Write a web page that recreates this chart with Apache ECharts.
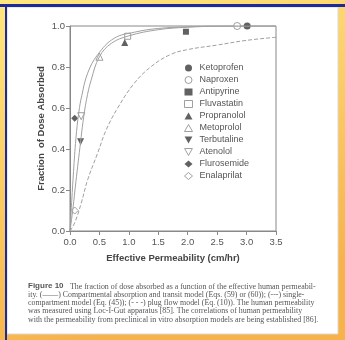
<!DOCTYPE html>
<html>
<head>
<meta charset="utf-8">
<script src="https://cdn.jsdelivr.net/npm/echarts@6/dist/echarts.min.js"></script>
<style>
  html, body { margin: 0; padding: 0; }
  #chart { width: 345px; height: 340px; }
</style>
</head>
<body>
<div id="chart"></div>
<script>
// model curves (permeability cm/hr -> fraction absorbed)
const compXs = [0, 0.03, 0.06, 0.1, 0.15, 0.2, 0.3, 0.47, 0.75, 1.1, 1.5, 2.0, 2.5, 3.0, 3.5];
const compYs = [0, 0.15, 0.29, 0.45, 0.58, 0.66, 0.77, 0.86, 0.94, 0.97, 0.988, 0.996, 1.0, 1.0, 1.0];

const singleXs = [0, 0.05, 0.1, 0.18, 0.22, 0.28, 0.36, 0.5, 0.7, 1.0, 1.5, 2.0, 2.5, 3.0, 3.5];
const singleYs = [0, 0.11, 0.24, 0.435, 0.53, 0.64, 0.737, 0.85, 0.915, 0.952, 0.982, 0.994, 0.999, 1.0, 1.0];

const plugXs = [0, 0.08, 0.19, 0.3, 0.47, 0.61, 0.81, 1.09, 1.37, 1.7, 2.0, 2.5, 3.0, 3.5];
const plugYs = [0, 0.04, 0.135, 0.25, 0.38, 0.49, 0.6, 0.72, 0.8, 0.86, 0.885, 0.907, 0.93, 0.945];

// measured drugs
const drugNames = ['Ketoprofen', 'Naproxen', 'Antipyrine', 'Fluvastatin', 'Propranolol',
  'Metoprolol', 'Terbutaline', 'Atenolol', 'Flurosemide', 'Enalaprilat'];
const drugPerm = [3.01, 2.84, 1.97, 0.98, 0.93, 0.5, 0.18, 0.19, 0.08, 0.08];
const drugFrac = [1.0, 1.0, 0.972, 0.95, 0.92, 0.85, 0.435, 0.56, 0.55, 0.1];

const xTicks = ['0.0', '0.5', '1.0', '1.5', '2.0', '2.5', '3.0', '3.5'];

const captionLines = [
  'ity. (——) Compartmental absorption and transit model (Eqs. (59) or (60)); (---) single-',
  'compartment model (Eq. (45)); (- - -) plug flow model (Eq. (10)). The human permeability',
  'was measured using Loc-I-Gut apparatus [85]. The correlations of human permeability',
  'with the permeability from preclinical in vitro absorption models are being established [86].'
];

const downTri = 'path://M0,0 L10,0 L5,9 Z';

// marker look per drug: [symbol, rotate, filled]
const markerLook = [
  ['circle', 0, true], ['circle', 0, false], ['rect', 0, true], ['rect', 0, false],
  ['triangle', 0, true], ['triangle', 0, false], ['triangle', 180, true], ['triangle', 180, false],
  ['diamond', 0, true], ['diamond', 0, false]
];

function pairs(xs, ys) {
  return xs.map((x, i) => [x, ys[i]]);
}

function markStyle(filled) {
  return filled
    ? { color: '#3a3a3a', borderWidth: 0 }
    : { color: '#ffffff', borderColor: '#888', borderWidth: 1 };
}

const curveSeries = [
  { name: 'comp', data: pairs(compXs, compYs), type: 'solid' },
  { name: 'single', data: pairs(singleXs, singleYs), type: 'solid' },
  { name: 'plug', data: pairs(plugXs, plugYs), type: 'dashed' }
].map(c => ({
  name: c.name,
  type: 'line',
  data: c.data,
  smooth: 0.4,
  showSymbol: false,
  silent: true,
  lineStyle: { color: '#a0a0a0', width: 1, type: c.type }
}));

const drugSeries = drugNames.map((name, i) => {
  const look = markerLook[i];
  return {
    name: name,
    type: 'scatter',
    data: [[drugPerm[i], drugFrac[i]]],
    symbol: look[0],
    symbolRotate: look[1],
    symbolSize: look[0] === 'rect' ? 6 : 7,
    itemStyle: markStyle(look[2])
  };
});

const legendItems = drugNames.map((name, i) => {
  const look = markerLook[i];
  return {
    name: name,
    icon: look[1] === 180 ? downTri : look[0],
    itemStyle: markStyle(look[2])
  };
});

const graphics = [
  { type: 'rect', z: -10, shape: { x: 7, y: 7, width: 331, height: 327 }, style: { fill: '#ffffff', stroke: '#d8d8d8' } },
  { type: 'rect', z: -9, shape: { x: 0, y: 4, width: 345, height: 3 }, style: { fill: '#1c2a9a' } },
  { type: 'rect', z: -9, shape: { x: 5, y: 4, width: 2, height: 336 }, style: { fill: '#1c2a9a' } },
  {
    type: 'text', left: 28, top: 282,
    style: { text: 'Figure 10', font: 'bold 8px "Liberation Sans"', fill: '#555' }
  },
  {
    type: 'text', left: 70, top: 282.5,
    style: { text: 'The fraction of dose absorbed as a function of the effective human permeabil-',
      font: '7.9px "Liberation Serif"', fill: '#555' }
  }
];
captionLines.forEach((line, i) => {
  graphics.push({
    type: 'text', left: 28, top: 291 + i * 8.2,
    style: { text: line, font: '7.9px "Liberation Serif"', fill: '#555' }
  });
});

const chart = echarts.init(document.getElementById('chart'));
chart.setOption({
  animation: false,
  backgroundColor: {
    type: 'linear', x: 0, y: 0, x2: 0.3, y2: 1,
    colorStops: [
      { offset: 0, color: '#ffe77e' },
      { offset: 1, color: '#f7b24a' }
    ]
  },
  graphic: graphics,
  grid: { left: 70, right: 69, top: 26, bottom: 109, show: true, borderColor: '#888', borderWidth: 1 },
  legend: {
    orient: 'vertical',
    left: 179,
    top: 58,
    itemWidth: 8,
    itemHeight: 7,
    itemGap: 2,
    data: legendItems,
    textStyle: { color: '#555', fontSize: 9, lineHeight: 10, fontFamily: 'Liberation Sans', padding: [0, 0, 0, 2] }
  },
  xAxis: {
    type: 'value',
    min: 0,
    max: 3.5,
    interval: 0.5,
    name: 'Effective Permeability (cm/hr)',
    nameLocation: 'middle',
    nameGap: 22,
    nameTextStyle: { color: '#444', fontSize: 9.5, fontWeight: 'bold', fontFamily: 'Liberation Sans' },
    axisLine: { lineStyle: { color: '#888' } },
    axisTick: { length: 4, lineStyle: { color: '#888' } },
    splitLine: { show: false },
    axisLabel: {
      color: '#555', fontSize: 9.5, fontFamily: 'Liberation Sans', margin: 6,
      formatter: v => xTicks[Math.round(v / 0.5)]
    }
  },
  yAxis: {
    type: 'value',
    min: 0,
    max: 1,
    interval: 0.2,
    name: 'Fraction  of Dose Absorbed',
    nameLocation: 'middle',
    nameGap: 24,
    nameMoveOverlap: false,
    nameTextStyle: { color: '#444', fontSize: 9.5, fontWeight: 'bold', fontFamily: 'Liberation Sans' },
    axisLine: { show: true, lineStyle: { color: '#888' } },
    axisTick: { show: true, length: 4, lineStyle: { color: '#888' } },
    splitLine: { show: false },
    axisLabel: {
      color: '#555', fontSize: 9.5, fontFamily: 'Liberation Sans', margin: 5,
      formatter: v => v.toFixed(1)
    }
  },
  series: curveSeries.concat(drugSeries)
});
</script>
</body>
</html>
